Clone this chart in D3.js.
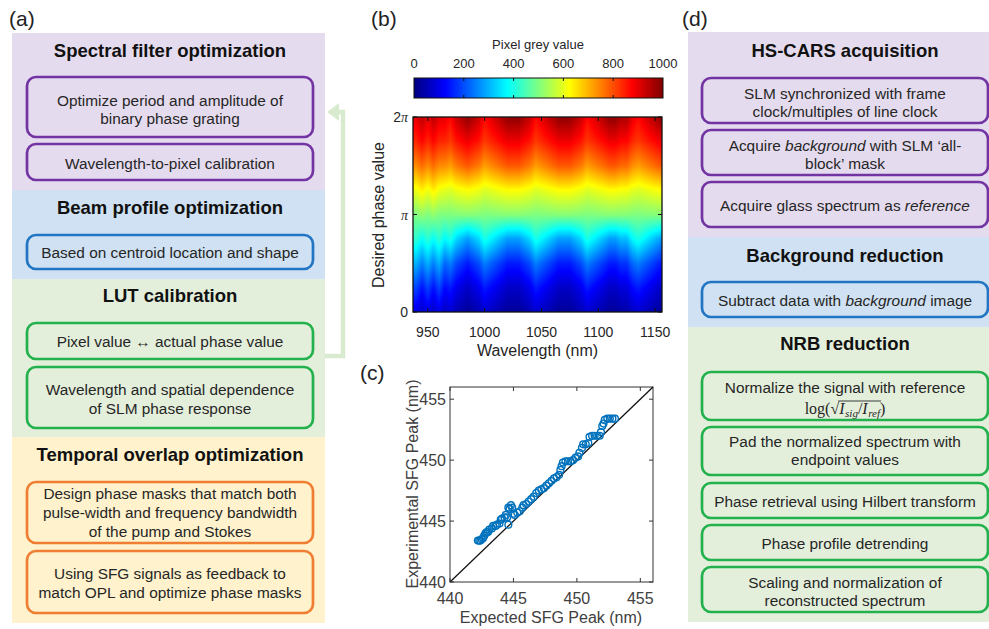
<!DOCTYPE html>
<html>
<head>
<meta charset="utf-8">
<script src="https://cdn.jsdelivr.net/npm/d3@7"></script>
<style>
  body { margin: 0; background: #fff; }
  svg { display: block; font-family: "Liberation Sans", Arial, sans-serif; }
</style>
</head>
<body>
<script>
// ---- (b) LUT heatmap: grey value per wavelength column, rows = phase 0 .. 2pi (step pi/4)
const wavelengths = [940, 945, 950, 955, 960, 965, 970, 975, 980, 985, 990, 995, 1000, 1005, 1010, 1015,
  1020, 1025, 1030, 1035, 1040, 1045, 1050, 1055, 1060, 1065, 1070, 1075, 1080, 1085, 1090, 1095,
  1100, 1105, 1110, 1115, 1120, 1125, 1130, 1135, 1140, 1145, 1150, 1155];
const phaseLevels = [0, 0.25, 0.5, 0.75, 1, 1.25, 1.5, 1.75, 2]; // in units of pi
const greyValues = [
  [100, 190, 300, 420, 500, 610, 740, 840, 900], // 940
  [70, 140, 250, 380, 520, 640, 770, 870, 940],
  [100, 190, 300, 420, 500, 610, 740, 840, 900], // 950
  [70, 140, 250, 380, 520, 640, 770, 870, 940],
  [100, 190, 300, 420, 500, 610, 740, 840, 900], // 960
  [66, 130, 225, 370, 502, 599, 738, 838, 899],
  [80, 150, 250, 400, 500, 590, 720, 820, 870], // 970
  [52, 110, 200, 340, 505, 608, 755, 855, 928],
  [39, 90, 175, 310, 508, 616, 772, 872, 956], // 980
  [25, 70, 150, 280, 510, 625, 790, 890, 985],
  [39, 90, 175, 310, 508, 616, 772, 872, 956], // 990
  [52, 110, 200, 340, 505, 608, 755, 855, 928],
  [80, 150, 250, 400, 500, 590, 720, 820, 870], // 1000
  [66, 130, 225, 370, 502, 599, 738, 838, 899],
  [52, 110, 200, 340, 505, 608, 755, 855, 928], // 1010
  [39, 90, 175, 310, 508, 616, 772, 872, 956],
  [25, 70, 150, 280, 510, 625, 790, 890, 985], // 1020
  [25, 70, 150, 280, 510, 625, 790, 890, 985],
  [25, 70, 150, 280, 510, 625, 790, 890, 985], // 1030
  [39, 90, 175, 310, 508, 616, 772, 872, 956],
  [52, 110, 200, 340, 505, 608, 755, 855, 928], // 1040
  [80, 150, 250, 400, 500, 590, 720, 820, 870],
  [66, 130, 225, 370, 502, 599, 738, 838, 899], // 1050
  [52, 110, 200, 340, 505, 608, 755, 855, 928],
  [39, 90, 175, 310, 508, 616, 772, 872, 956], // 1060
  [25, 70, 150, 280, 510, 625, 790, 890, 985],
  [25, 70, 150, 280, 510, 625, 790, 890, 985], // 1070
  [25, 70, 150, 280, 510, 625, 790, 890, 985],
  [39, 90, 175, 310, 508, 616, 772, 872, 956], // 1080
  [52, 110, 200, 340, 505, 608, 755, 855, 928],
  [80, 150, 250, 400, 500, 590, 720, 820, 870], // 1090
  [66, 130, 225, 370, 502, 599, 738, 838, 899],
  [52, 110, 200, 340, 505, 608, 755, 855, 928], // 1100
  [39, 90, 175, 310, 508, 616, 772, 872, 956],
  [25, 70, 150, 280, 510, 625, 790, 890, 985], // 1110
  [25, 70, 150, 280, 510, 625, 790, 890, 985],
  [39, 90, 175, 310, 508, 616, 772, 872, 956], // 1120
  [39, 90, 175, 310, 508, 616, 772, 872, 956],
  [66, 130, 225, 370, 502, 599, 738, 838, 899], // 1130
  [80, 150, 250, 400, 500, 590, 720, 820, 870],
  [66, 130, 225, 370, 502, 599, 738, 838, 899], // 1140
  [52, 110, 200, 340, 505, 608, 755, 855, 928],
  [39, 90, 175, 310, 508, 616, 772, 872, 956], // 1150
  [25, 70, 150, 280, 510, 625, 790, 890, 985]
];
const wavelengthTicks = [950, 1000, 1050, 1100, 1150];
const phaseTicks = [0, 1, 2];
const phaseTickLabels = ['0', 'π', '2π'];
const colorbarTicks = [0, 200, 400, 600, 800, 1000];

// ---- (c) SFG peak comparison
const expectedPeak = [442.2, 442.3, 442.4, 442.5, 442.6, 442.7, 442.8, 442.9, 443.0, 443.1, 443.3, 443.4,
  443.6, 443.7, 443.9, 444.0, 444.1, 444.3, 444.4, 444.5, 444.6, 444.7, 444.6, 444.8, 444.9, 445.0,
  445.1, 445.3, 445.5, 445.7, 445.8, 446.0, 446.2, 446.4, 446.6, 446.8, 447.0, 447.2, 447.4, 447.6,
  447.8, 448.0, 448.2, 448.4, 448.6, 448.7, 448.8, 448.9, 449.1, 449.3, 449.5, 449.7, 449.9, 450.1,
  450.2, 450.4, 450.5, 450.7, 450.9, 451.0, 451.2, 451.4, 451.6, 451.8, 451.9, 452.0, 452.1, 452.2,
  452.4, 452.6, 452.8, 453.0];
const experimentalPeak = [443.4, 443.4, 443.4, 443.5, 443.6, 443.8, 444.0, 444.1, 444.1, 444.3, 444.4, 444.6,
  444.6, 444.7, 444.8, 445.1, 445.2, 445.3, 445.5, 445.3, 446.1, 446.0, 444.7, 446.3, 446.1, 445.6,
  445.5, 445.7, 445.8, 446.1, 446.3, 446.4, 446.6, 446.8, 447.0, 447.3, 447.5, 447.6, 447.7, 447.9,
  448.1, 448.3, 448.5, 448.6, 448.8, 449.2, 449.5, 449.8, 449.9, 449.9, 449.9, 450.0, 450.2, 450.3,
  450.6, 451.0, 451.3, 451.3, 451.4, 451.9, 452.0, 452.0, 452.0, 452.0, 452.3, 452.8, 453.0, 453.3,
  453.4, 453.4, 453.4, 453.4];
const sfgTicks = [440, 445, 450, 455];

// ---- flow charts (a) and (d)
const stepsA = [
  { title: 'Spectral filter optimization', theme: 'purple',
    boxes: [['Optimize period and amplitude of', 'binary phase grating'], ['Wavelength-to-pixel calibration']] },
  { title: 'Beam profile optimization', theme: 'blue',
    boxes: [['Based on centroid location and shape']] },
  { title: 'LUT calibration', theme: 'green',
    boxes: [['Pixel value ↔ actual phase value'], ['Wavelength and spatial dependence', 'of SLM phase response']] },
  { title: 'Temporal overlap optimization', theme: 'orange',
    boxes: [['Design phase masks that match both', 'pulse-width and frequency bandwidth', 'of the pump and Stokes'],
            ['Using SFG signals as feedback to', 'match OPL and optimize phase masks']] }
];
const stepsD = [
  { title: 'HS-CARS acquisition', theme: 'purple',
    boxes: [['SLM synchronized with frame', 'clock/multiples of line clock'],
            ['Acquire *background* with SLM ‘all-', 'block’ mask'],
            ['Acquire glass spectrum as *reference*']] },
  { title: 'Background reduction', theme: 'blue',
    boxes: [['Subtract data with *background* image']] },
  { title: 'NRB reduction', theme: 'green',
    boxes: [['Normalize the signal with reference', '$LOG$'], ['Pad the normalized spectrum with', 'endpoint values'],
            ['Phase retrieval using Hilbert transform'], ['Phase profile detrending'],
            ['Scaling and normalization of', 'reconstructed spectrum']] }
];

const themes = {
  purple: { bg: '#e5dbee', line: '#7334a3' },
  blue:   { bg: '#cfe1f2', line: '#2275c3' },
  green:  { bg: '#e3efdb', line: '#22b14c' },
  orange: { bg: '#fff2cc', line: '#ef7e32' }
};

// layout (pixel positions of the flow chart pieces)
const layoutA = { x0: 12, x1: 325, bx0: 27, bx1: 313, cx: 170, sections: [
  { top: 33, bottom: 190, ty: 50, boxes: [[77, 137, [100, 118]], [144, 180, [163]]] },
  { top: 190, bottom: 279, ty: 207, boxes: [[235, 269, [252]]] },
  { top: 279, bottom: 437, ty: 295, boxes: [[323, 359, [341]], [367, 428, [389, 408]]] },
  { top: 437, bottom: 623, ty: 454, boxes: [[482, 543, [493, 512, 531]], [551, 613, [573, 592]]] }
] };
const layoutD = { x0: 688, x1: 1002, bx0: 702, bx1: 988, cx: 845, sections: [
  { top: 32, bottom: 237, ty: 50, boxes: [[78, 123, [93, 111]], [130, 175, [145, 163]], [182, 227, [205]]] },
  { top: 237, bottom: 327, ty: 255, boxes: [[282, 317, [300]]] },
  { top: 327, bottom: 622, ty: 343, boxes: [[372, 420, [387, 409]], [427, 475, [441, 459]], [483, 518, [501]],
    [525, 560, [543]], [567, 612, [582, 600]]] }
] };

const svg = d3.select('body').append('svg').attr('width', 989).attr('height', 629);

function richLine(x, y, str) {
  const t = svg.append('text').attr('x', x).attr('y', y)
    .attr('text-anchor', 'middle').attr('dominant-baseline', 'central')
    .attr('font-size', 15.4).attr('fill', '#262626');
  str.split('*').forEach((part, i) => {
    t.append('tspan').attr('font-style', i % 2 ? 'italic' : null).text(part);
  });
}

// log( sqrt(I_sig / I_ref) ) in serif
function mathLine(cx, y) {
  const g = svg.append('g');
  const pieces = [
    { s: 'log(', it: false }, { s: '√', it: false }, { s: 'I', it: true, over: true },
    { s: 'sig', it: true, sub: true, over: true }, { s: '/', it: false, over: true },
    { s: 'I', it: true, over: true }, { s: 'ref', it: true, sub: true, over: true }, { s: ')', it: false }
  ];
  let x = 0, ox0 = null, ox1 = 0;
  pieces.forEach(p => {
    const t = g.append('text').attr('x', x).attr('y', y + 5 + (p.sub ? 3 : 0))
      .attr('font-family', '"Liberation Serif", "Times New Roman", serif')
      .attr('font-size', p.sub ? 11 : 16).attr('font-style', p.it ? 'italic' : null)
      .attr('fill', '#262626').text(p.s);
    const w = t.node().getComputedTextLength();
    if (p.over) { if (ox0 === null) ox0 = x; ox1 = x + w; }
    x += w + (p.s === 'I' ? 0.5 : 0);
  });
  g.append('line').attr('x1', ox0 - 1).attr('x2', ox1 + 1).attr('y1', y - 8).attr('y2', y - 8)
    .attr('stroke', '#262626').attr('stroke-width', 0.9);
  g.attr('transform', `translate(${cx - x / 2},0)`);
}

function drawFlow(steps, L) {
  steps.forEach((st, i) => {
    const s = L.sections[i], th = themes[st.theme];
    svg.append('rect').attr('x', L.x0).attr('y', s.top).attr('width', L.x1 - L.x0)
      .attr('height', s.bottom - s.top).attr('fill', th.bg);
    svg.append('text').attr('x', L.cx).attr('y', s.ty).attr('text-anchor', 'middle')
      .attr('dominant-baseline', 'central').attr('font-size', 18.5).attr('font-weight', 'bold')
      .attr('fill', '#111').text(st.title);
    st.boxes.forEach((lines, k) => {
      const b = s.boxes[k];
      svg.append('rect').attr('x', L.bx0).attr('y', b[0]).attr('width', L.bx1 - L.bx0)
        .attr('height', b[1] - b[0]).attr('rx', 9).attr('fill', 'none')
        .attr('stroke', th.line).attr('stroke-width', 2.7);
      lines.forEach((ln, m) => {
        if (ln === '$LOG$') mathLine(L.cx, b[2][m]);
        else richLine(L.cx, b[2][m], ln);
      });
    });
  });
}
drawFlow(stepsA, layoutA);
drawFlow(stepsD, layoutD);

// feedback arrow from LUT calibration back to spectral filter optimization
svg.append('path').attr('d', 'M325,356 H343 V112 H336').attr('fill', 'none')
  .attr('stroke', '#d9ebcf').attr('stroke-width', 4.5);
svg.append('path').attr('d', 'M327,112 L339,103 L339,121 Z').attr('fill', '#d9ebcf');

// panel labels
[['(a)', 9, 26], ['(b)', 371, 26], ['(c)', 360, 380], ['(d)', 682, 26]].forEach(([s, x, y]) => {
  svg.append('text').attr('x', x).attr('y', y).attr('font-size', 21).attr('fill', '#222').text(s);
});

// ---------------- (b) heatmap ----------------
const xW = d3.scaleLinear().domain([937, 1156]).range([413, 662]);
const yP = d3.scaleLinear().domain([0, 2]).range([312, 117]);
const jet = d3.scaleLinear().domain([0, 125, 375, 625, 875, 1000])
  .range(['#000080', '#0000ff', '#00ffff', '#ffff00', '#ff0000', '#800000']).clamp(true);

const pw = xW.range()[1] - xW.range()[0], ph = yP.range()[0] - yP.range()[1];
const cvs = document.createElement('canvas');
cvs.width = pw; cvs.height = ph;
const ctx = cvs.getContext('2d');
const img = ctx.createImageData(pw, ph);
const bis = d3.bisector(d => d).right;
function locate(arr, v) {
  let i = Math.max(0, Math.min(arr.length - 2, bis(arr, v) - 1));
  const t = Math.max(0, Math.min(1, (v - arr[i]) / (arr[i + 1] - arr[i])));
  return [i, t];
}
for (let py = 0; py < ph; py++) {
  const [j, ty] = locate(phaseLevels, yP.invert(yP.range()[1] + py + 0.5));
  for (let px = 0; px < pw; px++) {
    const [i, tx] = locate(wavelengths, xW.invert(xW.range()[0] + px + 0.5));
    const a = greyValues[i][j] * (1 - ty) + greyValues[i][j + 1] * ty;
    const b = greyValues[i + 1][j] * (1 - ty) + greyValues[i + 1][j + 1] * ty;
    const c = d3.rgb(jet(a * (1 - tx) + b * tx));
    const k = (py * pw + px) * 4;
    img.data[k] = c.r; img.data[k + 1] = c.g; img.data[k + 2] = c.b; img.data[k + 3] = 255;
  }
}
ctx.putImageData(img, 0, 0);
svg.append('image').attr('href', cvs.toDataURL()).attr('x', xW.range()[0]).attr('y', yP.range()[1])
  .attr('width', pw).attr('height', ph).attr('preserveAspectRatio', 'none');

const hm = svg.append('g');
hm.append('rect').attr('x', 413).attr('y', 117).attr('width', pw).attr('height', ph)
  .attr('fill', 'none').attr('stroke', '#111').attr('stroke-width', 1.3);
wavelengthTicks.forEach(v => {
  hm.append('line').attr('x1', xW(v)).attr('x2', xW(v)).attr('y1', 312).attr('y2', 308).attr('stroke', '#111');
  hm.append('line').attr('x1', xW(v)).attr('x2', xW(v)).attr('y1', 117).attr('y2', 121).attr('stroke', '#111');
  hm.append('text').attr('x', xW(v)).attr('y', 337).attr('text-anchor', 'middle')
    .attr('font-size', 14).attr('fill', '#262626').text(v);
});
phaseTicks.forEach((v, i) => {
  hm.append('line').attr('x1', 413).attr('x2', 417).attr('y1', yP(v)).attr('y2', yP(v)).attr('stroke', '#111');
  hm.append('line').attr('x1', 662).attr('x2', 658).attr('y1', yP(v)).attr('y2', yP(v)).attr('stroke', '#111');
  const t = hm.append('text').attr('x', 408).attr('y', yP(v) + 5).attr('text-anchor', 'end')
    .attr('font-size', 14).attr('fill', '#262626');
  const lab = phaseTickLabels[i];
  if (lab.includes('π')) {
    if (lab.length > 1) t.append('tspan').text(lab[0]);
    t.append('tspan').attr('font-family', '"Liberation Serif", serif').attr('font-style', 'italic').text('π');
  } else t.text(lab);
});
hm.append('text').attr('x', (413 + 662) / 2).attr('y', 356).attr('text-anchor', 'middle')
  .attr('font-size', 16).attr('fill', '#262626').text('Wavelength (nm)');
hm.append('text').attr('transform', 'translate(384,215) rotate(-90)').attr('text-anchor', 'middle')
  .attr('font-size', 16).attr('fill', '#262626').text('Desired phase value');

// colorbar
const cb = d3.scaleLinear().domain([0, 1000]).range([414, 663]);
const grad = svg.append('defs').append('linearGradient').attr('id', 'jetgrad');
d3.range(0, 1001, 25).forEach(v => {
  grad.append('stop').attr('offset', v / 1000).attr('stop-color', jet(v));
});
svg.append('rect').attr('x', cb(0)).attr('y', 78).attr('width', cb(1000) - cb(0)).attr('height', 20)
  .attr('fill', 'url(#jetgrad)').attr('stroke', '#111').attr('stroke-width', 1);
colorbarTicks.forEach(v => {
  if (v > 0 && v < 1000) {
    svg.append('line').attr('x1', cb(v)).attr('x2', cb(v)).attr('y1', 78).attr('y2', 81).attr('stroke', '#111');
    svg.append('line').attr('x1', cb(v)).attr('x2', cb(v)).attr('y1', 98).attr('y2', 95).attr('stroke', '#111');
  }
  svg.append('text').attr('x', cb(v)).attr('y', 68).attr('text-anchor', 'middle')
    .attr('font-size', 13).attr('fill', '#262626').text(v);
});
svg.append('text').attr('x', 538).attr('y', 49).attr('text-anchor', 'middle')
  .attr('font-size', 13).attr('fill', '#262626').text('Pixel grey value');

// ---------------- (c) scatter ----------------
const sx = d3.scaleLinear().domain([440, 456]).range([450, 653]);
const sy = d3.scaleLinear().domain([440, 456]).range([582, 387]);
const sc = svg.append('g');
sc.append('rect').attr('x', 450).attr('y', 387).attr('width', 203).attr('height', 195)
  .attr('fill', '#fff').attr('stroke', '#333').attr('stroke-width', 1);
sc.append('line').attr('x1', sx(440)).attr('y1', sy(440)).attr('x2', sx(456)).attr('y2', sy(456))
  .attr('stroke', '#111').attr('stroke-width', 1.3);
sc.selectAll('circle.pt').data(expectedPeak).enter().append('circle').attr('class', 'pt')
  .attr('cx', d => sx(d)).attr('cy', (d, i) => sy(experimentalPeak[i])).attr('r', 3.4)
  .attr('fill', 'none').attr('stroke', '#0072bd').attr('stroke-width', 1.4);
sfgTicks.forEach(v => {
  sc.append('line').attr('x1', sx(v)).attr('x2', sx(v)).attr('y1', 582).attr('y2', 578).attr('stroke', '#333');
  sc.append('line').attr('x1', sx(v)).attr('x2', sx(v)).attr('y1', 387).attr('y2', 391).attr('stroke', '#333');
  sc.append('line').attr('x1', 450).attr('x2', 454).attr('y1', sy(v)).attr('y2', sy(v)).attr('stroke', '#333');
  sc.append('line').attr('x1', 653).attr('x2', 649).attr('y1', sy(v)).attr('y2', sy(v)).attr('stroke', '#333');
  sc.append('text').attr('x', sx(v)).attr('y', 604).attr('text-anchor', 'middle')
    .attr('font-size', 16).attr('fill', '#404040').text(v);
  sc.append('text').attr('x', 446).attr('y', sy(v) + 6).attr('text-anchor', 'end')
    .attr('font-size', 16).attr('fill', '#404040').text(v);
});
sc.append('text').attr('x', 551).attr('y', 623).attr('text-anchor', 'middle')
  .attr('font-size', 16).attr('fill', '#404040').text('Expected SFG Peak (nm)');
sc.append('text').attr('transform', 'translate(418,484) rotate(-90)').attr('text-anchor', 'middle')
  .attr('font-size', 16).attr('fill', '#404040').text('Experimental SFG Peak (nm)');
</script>
</body>
</html>
